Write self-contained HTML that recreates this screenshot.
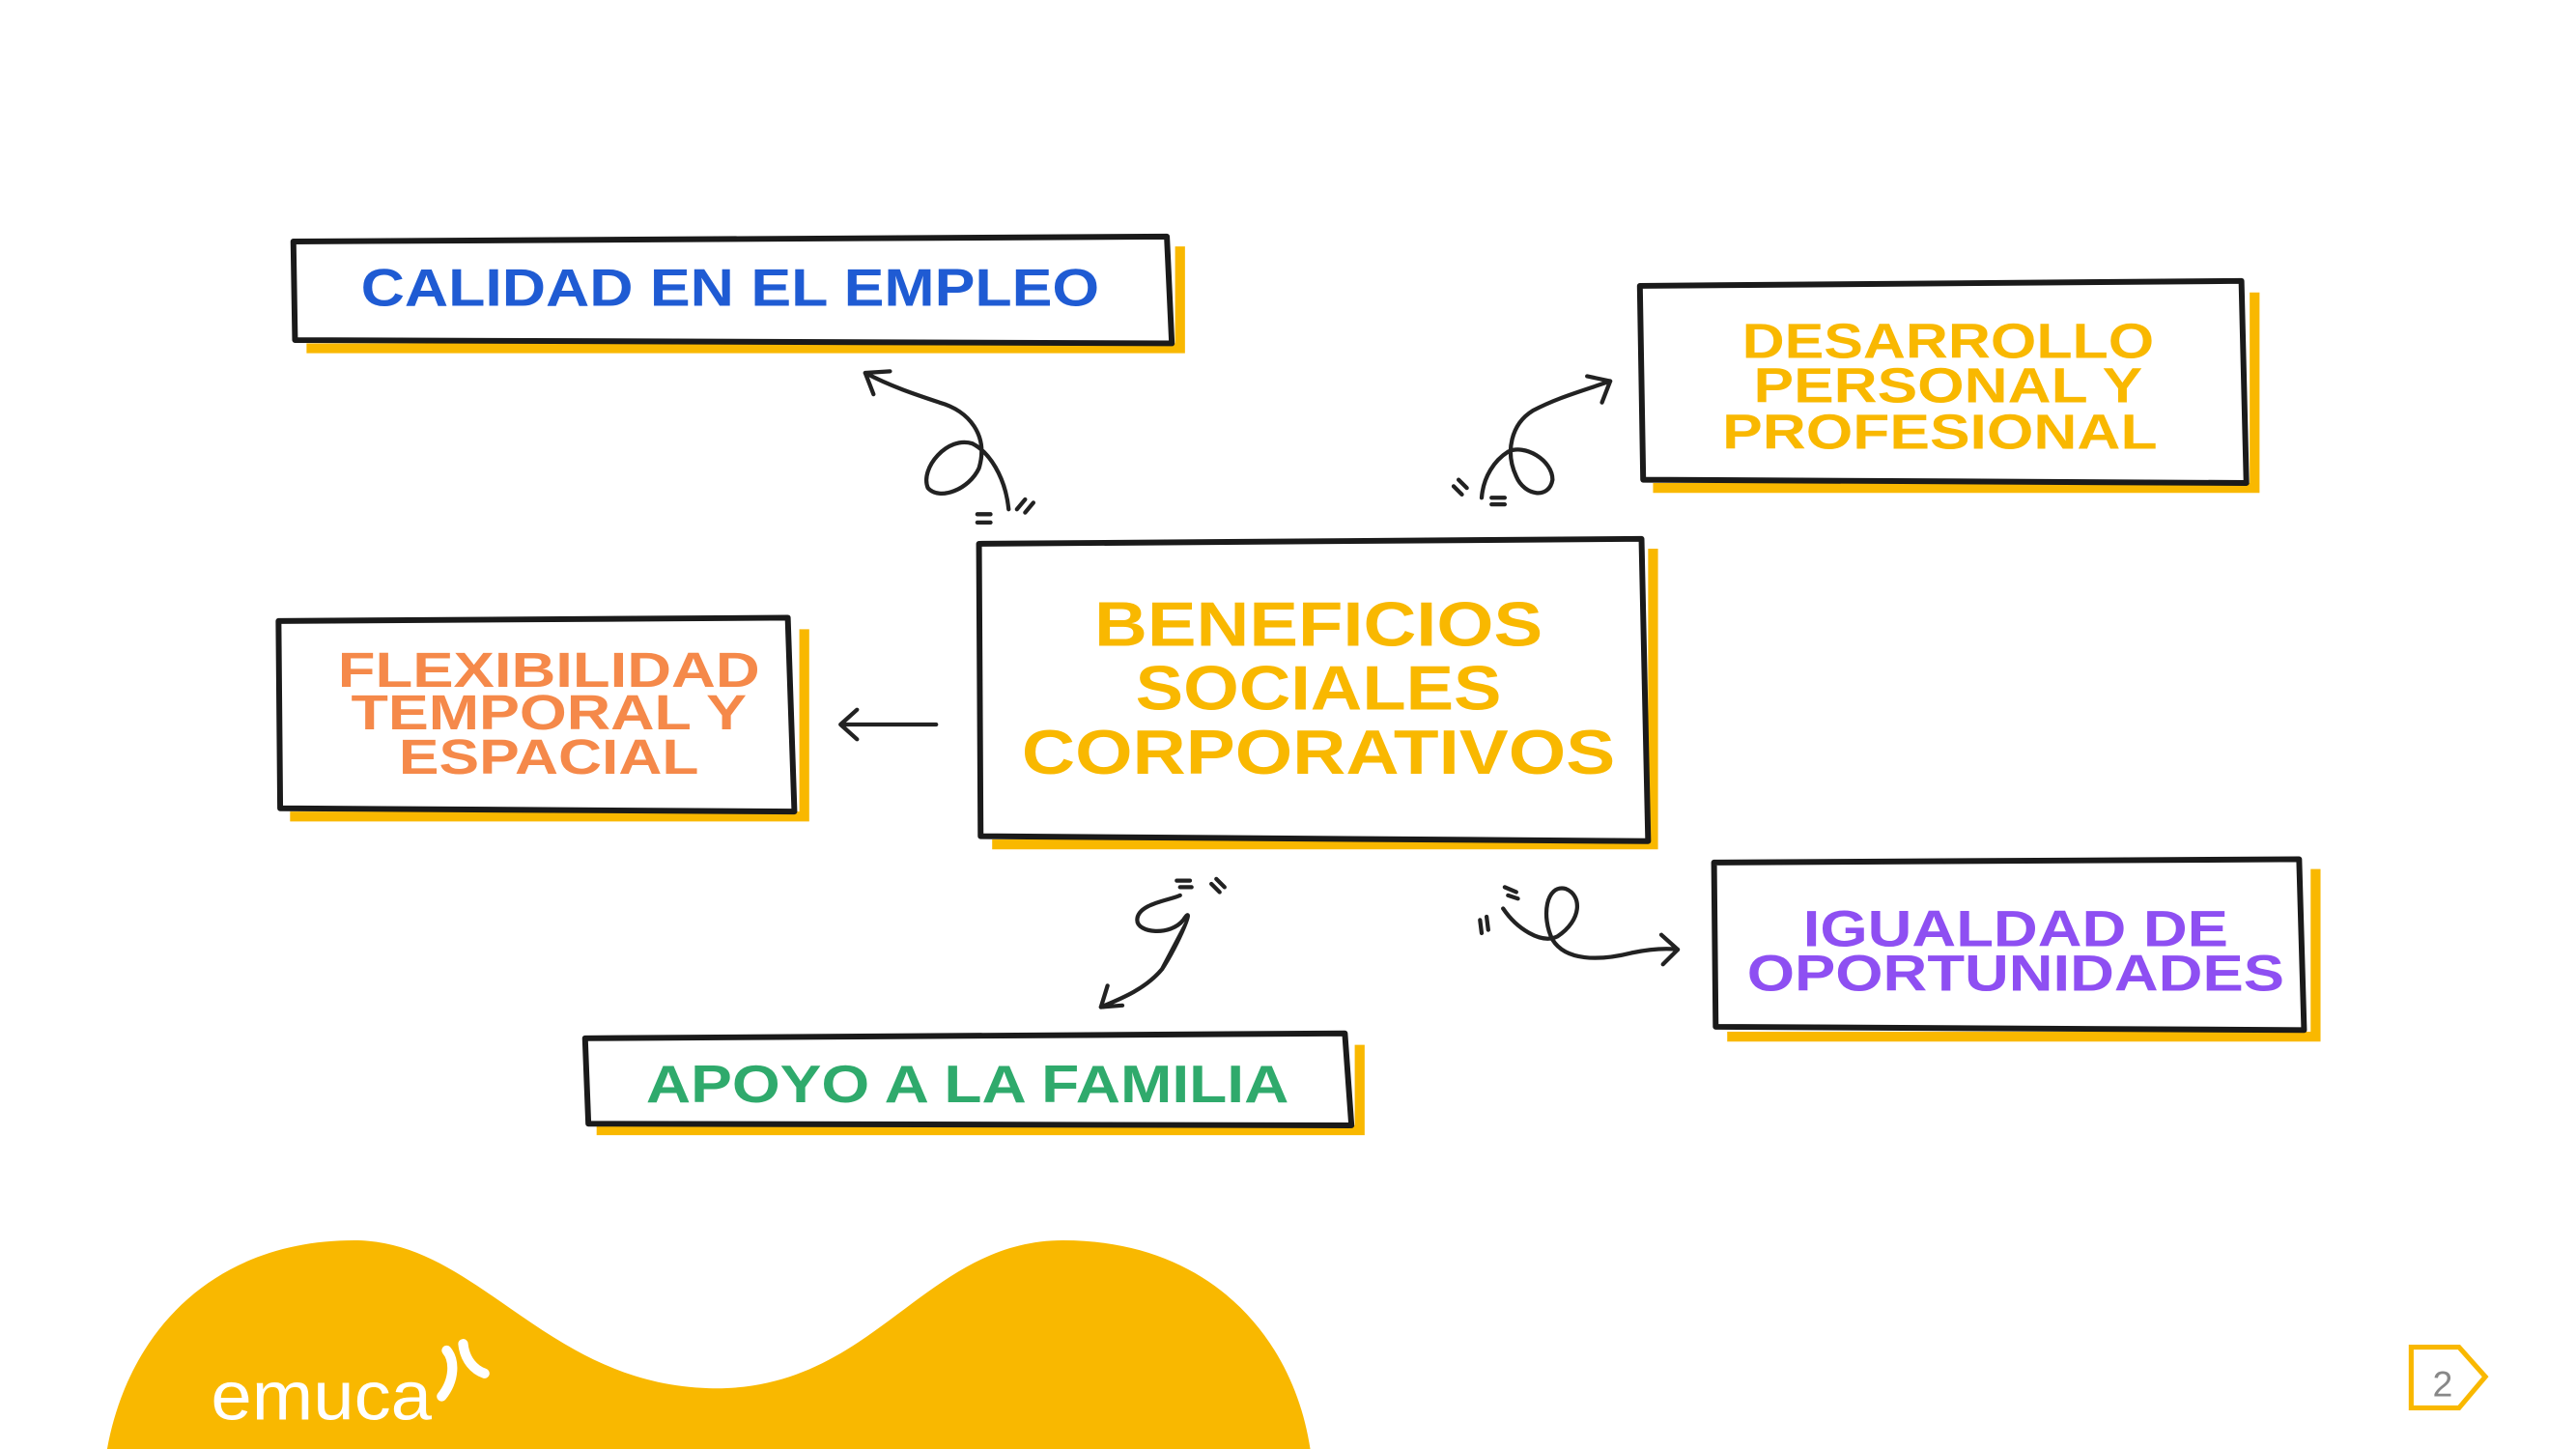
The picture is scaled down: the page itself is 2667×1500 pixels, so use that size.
<!DOCTYPE html>
<html><head><meta charset="utf-8"><style>
html,body{margin:0;padding:0;background:#fff;}
svg{display:block;}
text{font-family:"Liberation Sans",sans-serif;font-weight:bold;}
</style></head><body>
<svg width="2667" height="1500" viewBox="0 0 1563 882" preserveAspectRatio="none" xmlns="http://www.w3.org/2000/svg">
<rect width="1563" height="882" fill="#fff"/>
<!-- blob -->
<path d="M65 882 C78 810 130 755 215 755 C290 755 330 842 430 845 C530 848 560 755 645 755 C735 755 785 815 795 882 Z" fill="#F9B800"/>
<text x="128" y="864" font-size="42" fill="#fff" style="font-weight:normal" textLength="134" lengthAdjust="spacingAndGlyphs">emuca</text>
<path d="M268 850 C276 840 276 828 271 822 M281 818 C282 828 288 834 294 836" stroke="#fff" stroke-width="6" fill="none" stroke-linecap="round"/>
<!-- page num -->
<path d="M1463 820 H1492 L1508 838 L1492 857 H1463 Z" fill="none" stroke="#F9B800" stroke-width="3"/>
<text x="1476" y="850" font-size="22" fill="#888" style="font-weight:normal">2</text>

<g stroke="#F9B800" stroke-width="6" fill="none">
<path d="M186 212 H716 V150"/>
<path d="M1003 297 H1368 V178"/>
<path d="M602 514 H1003 V334"/>
<path d="M176 497 H488 V383"/>
<path d="M1048 631 H1405 V529"/>
<path d="M362 688 H825 V636"/>
</g>
<g stroke="#1a1a1a" stroke-width="3.5" fill="none" stroke-linejoin="round">
<path d="M178 147 L708 144 L711 209 L179 207 Z"/>
<path d="M995 174 L1360 171 L1363 294 L997 292 Z"/>
<path d="M594 331 L996 328 L1000 512 L595 509 Z"/>
<path d="M169 378 L478 376 L482 494 L170 492 Z"/>
<path d="M1040 525 L1395 523 L1398 627 L1041 625 Z"/>
<path d="M355 632 L816 629 L820 685 L357 684 Z"/>
</g>

<text x="443" y="186" font-size="32" fill="#1F5BD3" text-anchor="middle" textLength="448" lengthAdjust="spacingAndGlyphs">CALIDAD EN EL EMPLEO</text>
<g font-size="30" fill="#F9B800" text-anchor="middle">
<text x="1182" y="218" textLength="250" lengthAdjust="spacingAndGlyphs">DESARROLLO</text>
<text x="1182" y="245" textLength="236" lengthAdjust="spacingAndGlyphs">PERSONAL Y</text>
<text x="1177" y="273" textLength="264" lengthAdjust="spacingAndGlyphs">PROFESIONAL</text>
</g>
<g font-size="38" fill="#F9B800" text-anchor="middle">
<text x="800" y="393" textLength="272" lengthAdjust="spacingAndGlyphs">BENEFICIOS</text>
<text x="800" y="432" textLength="222" lengthAdjust="spacingAndGlyphs">SOCIALES</text>
<text x="800" y="471" textLength="360" lengthAdjust="spacingAndGlyphs">CORPORATIVOS</text>
</g>
<g font-size="30" fill="#F5894A" text-anchor="middle">
<text x="333" y="418" textLength="256" lengthAdjust="spacingAndGlyphs">FLEXIBILIDAD</text>
<text x="333" y="444" textLength="240" lengthAdjust="spacingAndGlyphs">TEMPORAL Y</text>
<text x="333" y="471" textLength="182" lengthAdjust="spacingAndGlyphs">ESPACIAL</text>
</g>
<g font-size="31" fill="#8E4FF2" text-anchor="middle">
<text x="1223" y="576" textLength="258" lengthAdjust="spacingAndGlyphs">IGUALDAD DE</text>
<text x="1223" y="603" textLength="326" lengthAdjust="spacingAndGlyphs">OPORTUNIDADES</text>
</g>
<text x="587" y="671" font-size="32" fill="#2FAA6C" text-anchor="middle" textLength="390" lengthAdjust="spacingAndGlyphs">APOYO A LA FAMILIA</text>

<!-- connectors -->
<g stroke="#222" stroke-width="2.5" fill="none" stroke-linecap="round">
<path d="M612 310 C610 290 600 275 590 270 C575 265 558 285 563 297 C570 305 588 298 594 285 C600 265 588 250 570 245 C555 240 540 235 525 227"/>
<path d="M525 227 L540 226 M525 227 L530 240"/>
<path d="M593 313 h8 M593 318 h8 M617 310 l5 -6 M622 312 l5 -6"/>
<path d="M899 303 C900 290 907 280 915 275 C925 270 942 280 942 292 C940 304 925 302 920 290 C913 275 917 258 930 250 C945 242 960 238 977 232"/>
<path d="M977 232 L963 229 M977 232 L972 245"/>
<path d="M905 303 h8 M905 307 h8 M882 296 l5 5 M885 292 l5 5"/>
<path d="M568 441 H510 M510 441 L520 432 M510 441 L520 450"/>
<path d="M716 545 C710 548 690 550 690 560 C690 568 710 570 718 560 C726 548 715 575 705 590 C695 602 680 608 668 613"/>
<path d="M668 613 L672 600 M668 613 L681 612"/>
<path d="M714 536 h8 M716 540 h7 M735 538 l5 5 M738 535 l5 5"/>
<path d="M912 553 C920 565 935 575 945 570 C960 560 960 545 950 541 C938 538 935 558 942 572 C950 585 970 585 990 580 C1000 578 1010 577 1018 578"/>
<path d="M1018 578 L1008 569 M1018 578 L1009 587"/>
<path d="M898 560 l1 8 M902 558 l1 8 M913 540 l7 3 M915 545 l6 2"/>
</g>
</svg>
</body></html>
